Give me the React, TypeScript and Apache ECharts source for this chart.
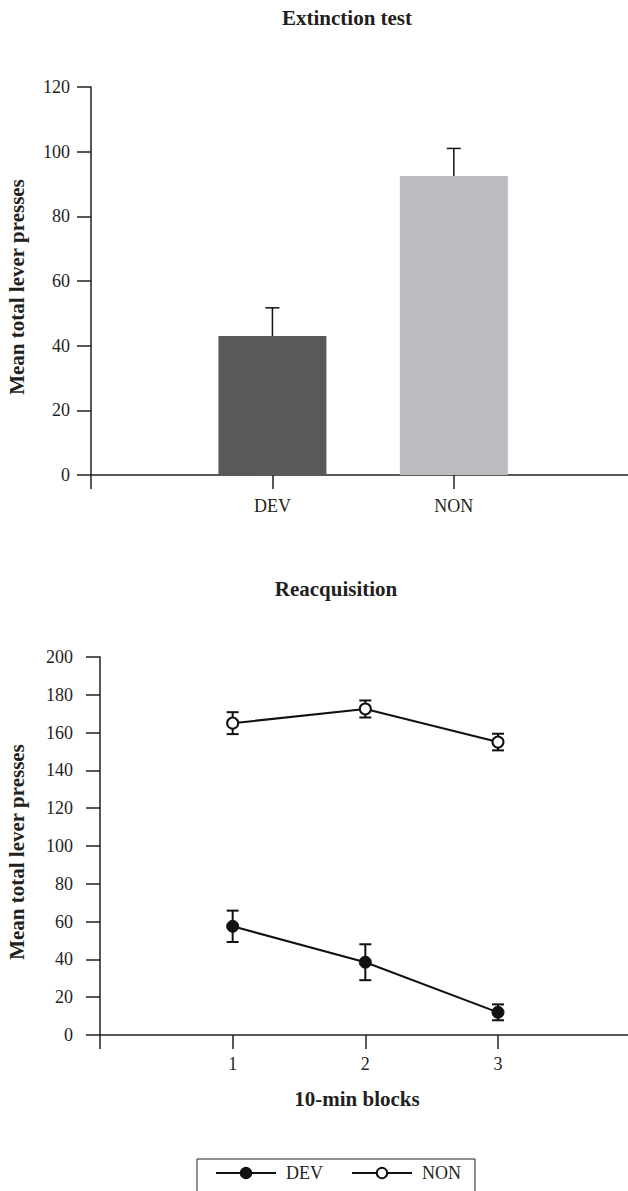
import React, { useEffect, useRef } from "react";
import * as echarts from "echarts";

// ---- Data ----
const extCategories = ["DEV", "NON"];
const extMeans = [43, 92.5];
const extSem = [8.7, 8.5];
const extColors = ["#58595b", "#bbbcc0"];

const blocks = [1, 2, 3];
const devMeans = [57.5, 38.5, 12];
const devSem = [8.3, 9.5, 4.2];
const nonMeans = [165, 172.5, 155];
const nonSem = [5.8, 4.5, 4.4];

const topTicks = [0, 20, 40, 60, 80, 100, 120];
const bottomTicks = [0, 20, 40, 60, 80, 100, 120, 140, 160, 180, 200];

const FONT = "'Liberation Serif', 'Times New Roman', serif";
const INK = "#231f20";
const BOLD = `bold 21px ${FONT}`;

export default function App() {
  const ref = useRef<HTMLDivElement>(null);

  useEffect(() => {
    if (!ref.current) return;
    const chart = echarts.init(ref.current, undefined, { renderer: "svg" });

    const axisLine = { show: true, onZero: false, lineStyle: { color: INK, width: 1.5 } };
    const axisTick = { show: true, inside: false, length: 14, lineStyle: { color: INK, width: 1.5 } };
    const labelBase = { color: INK, fontSize: 18, fontFamily: FONT };

    const errRender = (both: boolean) => (params: any, api: any) => {
      const x = api.value(0);
      const lo = api.value(1);
      const hi = api.value(2);
      const pLo = api.coord([x, lo]);
      const pHi = api.coord([x, hi]);
      const half = both ? 6 : 7;
      const w = both ? 2 : 1.5;
      const style = { stroke: "#111", lineWidth: w };
      const children: any[] = [
        { type: "line", shape: { x1: pLo[0], y1: pLo[1], x2: pHi[0], y2: pHi[1] }, style },
        { type: "line", shape: { x1: pHi[0] - half, y1: pHi[1], x2: pHi[0] + half, y2: pHi[1] }, style },
      ];
      if (both) {
        children.push({ type: "line", shape: { x1: pLo[0] - half, y1: pLo[1], x2: pLo[0] + half, y2: pLo[1] }, style });
      }
      return { type: "group", children };
    };

    const topXTicks = [0, ...extCategories.map((_, i) => i + 1)];
    const bottomXTicks = [0, ...blocks];

    const option: any = {
      animation: false,
      backgroundColor: "#ffffff",
      grid: [
        { left: 91, top: 87, width: 537, height: 388 },
        { left: 100, top: 657, width: 528, height: 378 },
      ],
      xAxis: [
        {
          gridIndex: 0,
          type: "value",
          min: 0,
          max: 2.96,
          interval: 1,
          axisLine,
          axisTick: { ...axisTick, customValues: topXTicks },
          splitLine: { show: false },
          axisLabel: {
            ...labelBase,
            margin: 22,
            customValues: extCategories.map((_, i) => i + 1),
            formatter: (v: number) => (v >= 1 && v <= extCategories.length ? extCategories[v - 1] : ""),
          },
        },
        {
          gridIndex: 1,
          type: "value",
          min: 0,
          max: 3.98,
          interval: 1,
          axisLine,
          axisTick: { ...axisTick, customValues: bottomXTicks },
          splitLine: { show: false },
          axisLabel: {
            ...labelBase,
            margin: 20,
            customValues: blocks,
            formatter: (v: number) => (blocks.includes(v) ? String(v) : ""),
          },
        },
      ],
      yAxis: [
        {
          gridIndex: 0,
          type: "value",
          min: topTicks[0],
          max: topTicks[topTicks.length - 1],
          interval: topTicks[1] - topTicks[0],
          axisLine,
          axisTick,
          splitLine: { show: false },
          axisLabel: { ...labelBase, margin: 21 },
        },
        {
          gridIndex: 1,
          type: "value",
          min: bottomTicks[0],
          max: bottomTicks[bottomTicks.length - 1],
          interval: bottomTicks[1] - bottomTicks[0],
          axisLine,
          axisTick,
          splitLine: { show: false },
          axisLabel: { ...labelBase, margin: 27 },
        },
      ],
      legend: {
        data: ["DEV", "NON"],
        left: 197,
        top: 1159,
        orient: "horizontal",
        itemWidth: 60,
        itemHeight: 13,
        itemGap: 28,
        borderColor: INK,
        borderWidth: 1,
        padding: [5, 14, 30, 18],
        textStyle: { color: INK, fontSize: 18, fontFamily: FONT, padding: [0, 0, 0, 5] },
        selectedMode: false,
      },
      graphic: [
        {
          type: "text",
          x: 347,
          y: 18,
          style: { text: "Extinction test", font: BOLD, fill: INK, textAlign: "center", textVerticalAlign: "middle" },
        },
        {
          type: "text",
          x: 336,
          y: 589,
          style: { text: "Reacquisition", font: BOLD, fill: INK, textAlign: "center", textVerticalAlign: "middle" },
        },
        {
          type: "text",
          x: 357,
          y: 1099,
          style: { text: "10-min blocks", font: BOLD, fill: INK, textAlign: "center", textVerticalAlign: "middle" },
        },
        {
          type: "text",
          x: 17,
          y: 287,
          rotation: Math.PI / 2,
          style: { text: "Mean total lever presses", font: BOLD, fill: INK, textAlign: "center", textVerticalAlign: "middle" },
        },
        {
          type: "text",
          x: 17,
          y: 852,
          rotation: Math.PI / 2,
          style: { text: "Mean total lever presses", font: BOLD, fill: INK, textAlign: "center", textVerticalAlign: "middle" },
        },
      ],
      series: [
        {
          name: "Extinction",
          type: "bar",
          xAxisIndex: 0,
          yAxisIndex: 0,
          barWidth: 108,
          data: extMeans.map((m, i) => ({ value: [i + 1, m], itemStyle: { color: extColors[i] } })),
          z: 2,
        },
        {
          name: "ExtinctionErr",
          type: "custom",
          xAxisIndex: 0,
          yAxisIndex: 0,
          renderItem: errRender(false),
          data: extMeans.map((m, i) => [i + 1, m, m + extSem[i]]),
          z: 1,
        },
        {
          name: "DEVErr",
          type: "custom",
          xAxisIndex: 1,
          yAxisIndex: 1,
          renderItem: errRender(true),
          data: blocks.map((b, i) => [b, devMeans[i] - devSem[i], devMeans[i] + devSem[i]]),
          z: 1,
        },
        {
          name: "NONErr",
          type: "custom",
          xAxisIndex: 1,
          yAxisIndex: 1,
          renderItem: errRender(true),
          data: blocks.map((b, i) => [b, nonMeans[i] - nonSem[i], nonMeans[i] + nonSem[i]]),
          z: 1,
        },
        {
          name: "DEV",
          type: "line",
          xAxisIndex: 1,
          yAxisIndex: 1,
          data: blocks.map((b, i) => [b, devMeans[i]]),
          symbol: "circle",
          symbolSize: 12,
          itemStyle: { color: "#111", borderColor: "#111", borderWidth: 1 },
          lineStyle: { color: "#111", width: 2 },
          z: 3,
        },
        {
          name: "NON",
          type: "line",
          xAxisIndex: 1,
          yAxisIndex: 1,
          data: blocks.map((b, i) => [b, nonMeans[i]]),
          symbol: "circle",
          symbolSize: 11,
          itemStyle: { color: "#ffffff", borderColor: "#111", borderWidth: 2 },
          lineStyle: { color: "#111", width: 2 },
          z: 3,
        },
      ],
    };

    chart.setOption(option);
    return () => chart.dispose();
  }, []);

  return (
    <div
      ref={ref}
      style={{ position: "absolute", left: 0, top: 0, width: 628, height: 1191, background: "#fff" }}
    />
  );
}
